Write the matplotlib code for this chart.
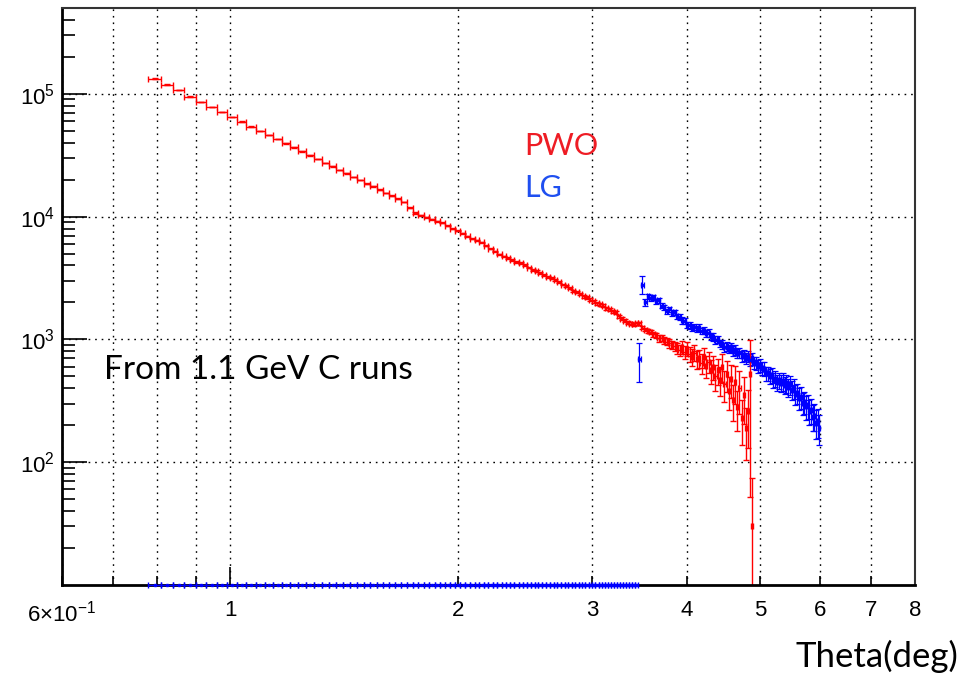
import numpy as np
import matplotlib
matplotlib.use("Agg")
import matplotlib.pyplot as plt
from matplotlib.ticker import FixedLocator, FixedFormatter

plt.rcParams['font.family'] = ['Liberation Sans', 'DejaVu Sans']
plt.rcParams['mathtext.fontset'] = 'custom'
plt.rcParams['mathtext.rm'] = 'Liberation Sans'
plt.rcParams['mathtext.it'] = 'Liberation Sans:italic'

BIN_WIDTH = 0.03      # deg, same binning for both histograms
FIRST_CENTER = 0.795  # centre of the first drawn bin

# PWO (red) bin contents, 0.78 .. 4.89 deg
pwo_counts = [
    133000, 119000, 107000, 95000, 86000, 78000, 71000, 65000, 59500, 54000,
    50000, 46200, 42700, 39500, 36600, 34000, 31600, 29400, 27400, 25600,
    24000, 22500, 21100, 19800, 18600, 17600, 16600, 15600, 14800, 14000,
    13200,
    11800, 10700, 10300, 9900, 9500, 9200, 8900, 8400, 8000, 7700,
    7300, 6900, 6600, 6400, 6200, 5800, 5500, 5200, 4950, 4750,
    4600, 4450, 4300, 4200, 4050, 3850, 3700, 3600, 3450, 3350,
    3250, 3150, 3050, 2950, 2800, 2700, 2620, 2500, 2420, 2350,
    2250, 2200, 2100, 2050, 1980, 1930, 1880, 1800, 1760, 1700,
    1660, 1550, 1470, 1420, 1370, 1340, 1330, 1350, 1360, 1250,
    1200,
    1170, 1150, 1100, 1080, 1020, 1030, 980, 960, 930, 900,
    880, 850, 820, 860, 790, 840, 760, 720, 780, 690,
    700, 640, 720, 610, 660, 560, 600, 500, 560, 470,
    600, 430, 520, 380, 480, 320, 450, 280, 400, 230,
    350, 190, 260, 520, 30,
]
# relative errors in percent
pwo_err_pct = [
    0.5, 0.5, 0.5, 0.5, 0.5, 0.5, 0.5, 0.5, 0.5, 0.5,
    0.5, 0.5, 0.5, 0.5, 0.5, 0.5, 0.5, 0.5, 0.5, 0.5,
    0.5, 0.5, 0.5, 0.5, 0.5, 0.5, 0.5, 0.5, 0.5, 0.5,
    0.5,
    1.0, 1.0, 1.0, 1.0, 1.0, 1.0, 1.0, 1.0, 1.0, 1.0,
    1.0, 1.0, 1.0, 1.0, 1.0, 1.0, 1.0, 1.0, 1.0, 1.0,
    1.8, 1.8, 1.8, 1.8, 1.8, 1.8, 1.8, 1.8, 1.8, 1.8,
    1.8, 1.8, 1.8, 1.8, 1.8, 1.8, 1.8, 1.8, 1.8, 1.8,
    2.8, 2.8, 2.8, 2.8, 2.8, 2.8, 2.8, 2.8, 2.8, 2.8,
    2.8, 2.8, 2.8, 2.8, 2.8, 2.8, 2.8, 2.8, 2.8, 2.8,
    2.8,
    4, 4, 5, 5, 6, 6, 7, 7, 8, 8,
    9, 10, 10, 12, 12, 13, 14, 15, 15, 16,
    17, 18, 18, 20, 20, 22, 22, 24, 24, 26,
    26, 28, 28, 30, 30, 32, 34, 36, 38, 40,
    42, 45, 50, 90, 150,
]

# LG (blue): empty bins 0.78 .. 3.45 deg, then filled bins up to 6.0 deg
lg_counts = [0] * 89 + [
    690, 2800, 2000, 2250, 2180, 2200, 2050, 2080, 1880, 1820,
    1700, 1760, 1640, 1660, 1540, 1520, 1430, 1420, 1310, 1300,
    1240, 1270, 1220, 1250, 1170, 1180, 1120, 1130, 1060, 1050,
    990, 1000, 930, 910, 860, 880, 840, 860, 810, 820,
    770, 780, 730, 745, 700, 725, 680, 700, 650, 645,
    610, 615, 580, 575, 530, 530, 500, 510, 470, 480,
    450, 465, 440, 455, 425, 440, 410, 430, 390, 400,
    360, 365, 335, 340, 305, 310, 285, 290, 260, 265,
    235, 240, 210, 215, 190,
]
lg_err_pct = [
    35, 17, 6, 5, 5, 5, 5, 5, 5, 5,
    5, 5, 5, 5, 5, 5, 6, 6, 6, 6,
    6, 6, 6, 6, 6, 6, 6, 7, 7, 7,
    7, 7, 7, 8, 8, 8, 8, 8, 9, 9,
    9, 9, 10, 10, 10, 10, 11, 11, 11, 12,
    12, 12, 12, 13, 13, 13, 14, 14, 14, 15,
    15, 15, 16, 16, 16, 17, 17, 18, 18, 18,
    19, 19, 20, 20, 21, 21, 22, 22, 23, 23,
    24, 25, 26, 27, 28,
]

x_minor_ticks = [0.6, 0.7, 0.8, 0.9, 2, 3, 4, 5, 6, 7, 8]
x_minor_labels = [r'6$\times$10$^{-1}$', '', '', '', '2', '3', '4', '5', '6', '7', '8']
y_major_ticks = [1e2, 1e3, 1e4, 1e5]
y_major_labels = [r'10$^{2}$', r'10$^{3}$', r'10$^{4}$', r'10$^{5}$']

W, H = 979, 677
fig = plt.figure(figsize=(W / 100, H / 100), dpi=100)
ax = fig.add_axes([62 / W, 1 - 585 / H, (915 - 62) / W, (585 - 8) / H])
ax.set_xscale('log')
ax.set_yscale('log')
ax.set_xlim(0.6, 8.0)
ax.set_ylim(10, 5e5)

# PWO histogram
pwo = np.array(pwo_counts, dtype=float)
pwo_theta = FIRST_CENTER + BIN_WIDTH * np.arange(len(pwo))
pwo_err = pwo * np.array(pwo_err_pct) / 100.0
ax.errorbar(pwo_theta, pwo, xerr=BIN_WIDTH / 2, yerr=pwo_err, fmt='none',
            ecolor='#ff0000', elinewidth=1.0, capsize=2, capthick=1.0, zorder=2.2)

# LG histogram
lg = np.array(lg_counts, dtype=float)
lg_theta = FIRST_CENTER + BIN_WIDTH * np.arange(len(lg))
empty = lg == 0
ebar = ax.errorbar(lg_theta[empty], np.full(empty.sum(), 10.0), xerr=BIN_WIDTH / 2,
                   fmt='s', ms=1.5, color='#0000ff', elinewidth=1.0, capsize=2,
                   zorder=3)
for art in ebar.get_children():
    art.set_clip_on(False)
lg_err = lg[~empty] * np.array(lg_err_pct) / 100.0
ax.errorbar(lg_theta[~empty], lg[~empty], xerr=BIN_WIDTH / 2, yerr=lg_err,
            fmt='s', ms=1.8, color='#0000ff', elinewidth=0.9, capsize=2,
            capthick=0.9, zorder=2.1)

# axes in ROOT style
ax.xaxis.set_major_locator(FixedLocator([1]))
ax.xaxis.set_major_formatter(FixedFormatter(['1']))
ax.xaxis.set_minor_locator(FixedLocator(x_minor_ticks))
ax.xaxis.set_minor_formatter(FixedFormatter(x_minor_labels))
ax.yaxis.set_major_locator(FixedLocator(y_major_ticks))
ax.yaxis.set_major_formatter(FixedFormatter(y_major_labels))
ax.yaxis.set_minor_locator(matplotlib.ticker.LogLocator(base=10, subs=np.arange(2, 10), numticks=20))
ax.yaxis.set_minor_formatter(matplotlib.ticker.NullFormatter())

ax.tick_params(axis='x', which='major', direction='in', length=13, width=1.2, labelsize=16, pad=11)
ax.tick_params(axis='x', which='minor', direction='in', length=6.5, width=1.2, labelsize=16, pad=11)
ax.tick_params(axis='y', which='major', direction='in', length=18, width=1.2, labelsize=16, pad=5)
ax.tick_params(axis='y', which='minor', direction='in', length=9, width=1.2)

grid_kw = dict(color='black', linestyle=(0, (1.2, 3.5)), linewidth=1.0)
ax.grid(True, axis='x', which='both', **grid_kw)
ax.grid(True, axis='y', which='major', **grid_kw)

for side in ('left', 'bottom'):
    ax.spines[side].set_linewidth(2.0)
for side in ('top', 'right'):
    ax.spines[side].set_linewidth(1.5)
    ax.spines[side].set_color('#333333')

# labels pasted on the slide
txt_font = ['Lato', 'DejaVu Sans']
fig.text(524 / W, 1 - 146 / H, 'PWO', color='#ee1c24', fontsize=22, family=txt_font, va='center', ha='left')
fig.text(524 / W, 1 - 188 / H, 'LG', color='#1f4ff0', fontsize=22, family=txt_font, va='center', ha='left')
fig.text(104 / W, 1 - 370 / H, 'From 1.1 GeV C runs', color='black', fontsize=24, family=txt_font, va='center', ha='left')
fig.text(958 / W, 1 - 656 / H, 'Theta(deg)', color='black', fontsize=25, family=txt_font, va='center', ha='right')

fig.savefig('out.png', dpi=100)
